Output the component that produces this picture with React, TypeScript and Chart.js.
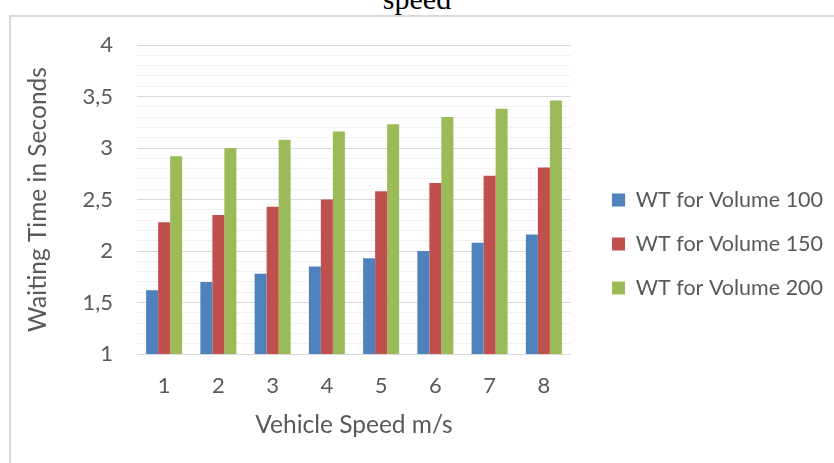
import React, { useEffect, useRef } from 'react';
import { Chart, registerables } from 'chart.js';

Chart.register(...registerables);

// ---- data ----
const categories = ['1', '2', '3', '4', '5', '6', '7', '8'];
const wt100 = [1.62, 1.70, 1.78, 1.85, 1.93, 2.00, 2.08, 2.16];
const wt150 = [2.28, 2.35, 2.43, 2.50, 2.58, 2.66, 2.73, 2.81];
const wt200 = [2.92, 3.00, 3.08, 3.16, 3.23, 3.30, 3.38, 3.46];
const seriesNames = ['WT for Volume 100', 'WT for Volume 150', 'WT for Volume 200'];
const seriesColors = ['#4f81bd', '#c0504d', '#9bbb59'];
const yMin = 1;
const yMax = 4;
const yMinorStep = 0.1;
const yMajorStep = 0.5;
const titleText = 'speed';
const xTitleText = 'Vehicle Speed m/s';
const yTitleText = 'Waiting Time in Seconds';

// ---- layout / style ----
const W = 834;
const H = 463;
const PLOT_LEFT = 137;
const PLOT_RIGHT = 571;
const PLOT_TOP = 45;
const PLOT_BOTTOM = 354;
const PAD_LEFT = 10;
const FONT = 'Lato';
const FONT_SIZE = 22;
const LEGEND_FONT_SIZE = 21.5;
const TITLE_SIZE = 24.5;
const TEXT = '#595959';
const LEGEND_PAD = 22.5;
const LEGEND_BOX = 13;
const LEGEND_BOX_X = 612;
const LEGEND_FIRST_CY = 200;

const isMajor = (v: number) => Math.abs(v / yMajorStep - Math.round(v / yMajorStep)) < 1e-6;
const fmt = (v: number) => String(Math.round(v * 10) / 10).replace('.', ',');

const legendPlace = {
  id: 'legendPlace',
  afterLayout(chart: any) {
    const lg = chart.legend;
    if (!lg || !lg.columnSizes || !lg.legendHitBoxes || !lg.legendHitBoxes.length) return;
    const dx = LEGEND_BOX_X - LEGEND_PAD - lg.left;
    const colH = lg.columnSizes[0].height;
    const itemH = lg.legendHitBoxes[0].height;
    const cy = (lg.top + LEGEND_PAD + lg.bottom - colH) / 2 + itemH / 2;
    const dy = LEGEND_FIRST_CY - cy;
    lg.left += dx;
    lg.right += dx;
    lg.top += dy;
    lg.bottom += dy;
  },
};

export default function App() {
  const ref = useRef<HTMLCanvasElement | null>(null);

  useEffect(() => {
    const canvas = ref.current;
    if (!canvas) return;
    const mctx = document.createElement('canvas').getContext('2d')!;
    mctx.font = `${LEGEND_FONT_SIZE}px ${FONT}`;
    const maxTextW = Math.max(...seriesNames.map((s) => mctx.measureText(s).width));
    const legendW = LEGEND_PAD + LEGEND_BOX + LEGEND_FONT_SIZE / 2 + maxTextW + 10;
    const padRight = Math.max(0, W - PLOT_RIGHT - legendW);

    const values = [wt100, wt150, wt200];
    const chart = new Chart(canvas, {
      type: 'bar',
      data: {
        labels: categories,
        datasets: values.map((d, i) => ({
          label: seriesNames[i],
          data: d,
          backgroundColor: seriesColors[i],
          borderWidth: 0,
          categoryPercentage: 0.664,
          barPercentage: 1,
        })),
      },
      options: {
        responsive: false,
        animation: false,
        devicePixelRatio: 1,
        layout: { padding: { top: PLOT_TOP, left: PAD_LEFT, right: padRight, bottom: 0 } },
        plugins: {
          tooltip: { enabled: false },
          title: { display: false },
          legend: {
            display: true,
            position: 'right',
            align: 'center',
            maxWidth: 400,
            labels: {
              boxWidth: LEGEND_BOX,
              boxHeight: LEGEND_BOX,
              padding: LEGEND_PAD,
              color: TEXT,
              font: { family: FONT, size: LEGEND_FONT_SIZE },
            },
          },
        },
        scales: {
          x: {
            grid: { display: false, drawTicks: false },
            border: { display: false },
            ticks: { color: TEXT, font: { family: FONT, size: FONT_SIZE }, padding: 19, maxRotation: 0 },
            title: {
              display: true,
              text: xTitleText,
              color: TEXT,
              font: { family: FONT, size: TITLE_SIZE },
              padding: { top: 0, bottom: 23 },
            },
            afterFit: (s: any) => {
              s.height = H - PLOT_BOTTOM;
            },
          },
          y: {
            min: yMin,
            max: yMax,
            border: { display: false },
            grid: {
              drawTicks: false,
              color: (c: any) => (isMajor(c.tick.value) ? '#d9d9d9' : '#f2f2f2'),
              lineWidth: 1,
            },
            ticks: {
              stepSize: yMinorStep,
              autoSkip: false,
              padding: 24,
              color: TEXT,
              font: { family: FONT, size: FONT_SIZE },
              callback: (v: any) => (isMajor(Number(v)) ? fmt(Number(v)) : ''),
            },
            title: {
              display: true,
              text: yTitleText,
              color: TEXT,
              font: { family: FONT, size: TITLE_SIZE },
              padding: { top: 13, bottom: 0 },
            },
            afterFit: (s: any) => {
              s.width = PLOT_LEFT - PAD_LEFT;
            },
          },
        },
      },
      plugins: [legendPlace],
    } as any);
    return () => chart.destroy();
  }, []);

  return (
    <div
      style={{
        position: 'fixed',
        left: 0,
        top: 0,
        width: W,
        height: H,
        overflow: 'hidden',
        background: '#ffffff',
      }}
    >
      <div
        style={{
          position: 'absolute',
          left: 0,
          top: -16,
          width: W,
          textAlign: 'center',
          fontFamily: '"Liberation Serif", "Times New Roman", serif',
          fontSize: 30,
          lineHeight: '30px',
          color: '#000000',
        }}
      >
        {titleText}
      </div>
      <div
        style={{
          position: 'absolute',
          left: 9,
          top: 15,
          width: W,
          height: H,
          borderLeft: '2px solid #d9d9d9',
          borderTop: '2px solid #d9d9d9',
          boxSizing: 'border-box',
        }}
      />
      <canvas ref={ref} width={W} height={H} style={{ position: 'absolute', left: 0, top: 0, width: W, height: H }} />
    </div>
  );
}
